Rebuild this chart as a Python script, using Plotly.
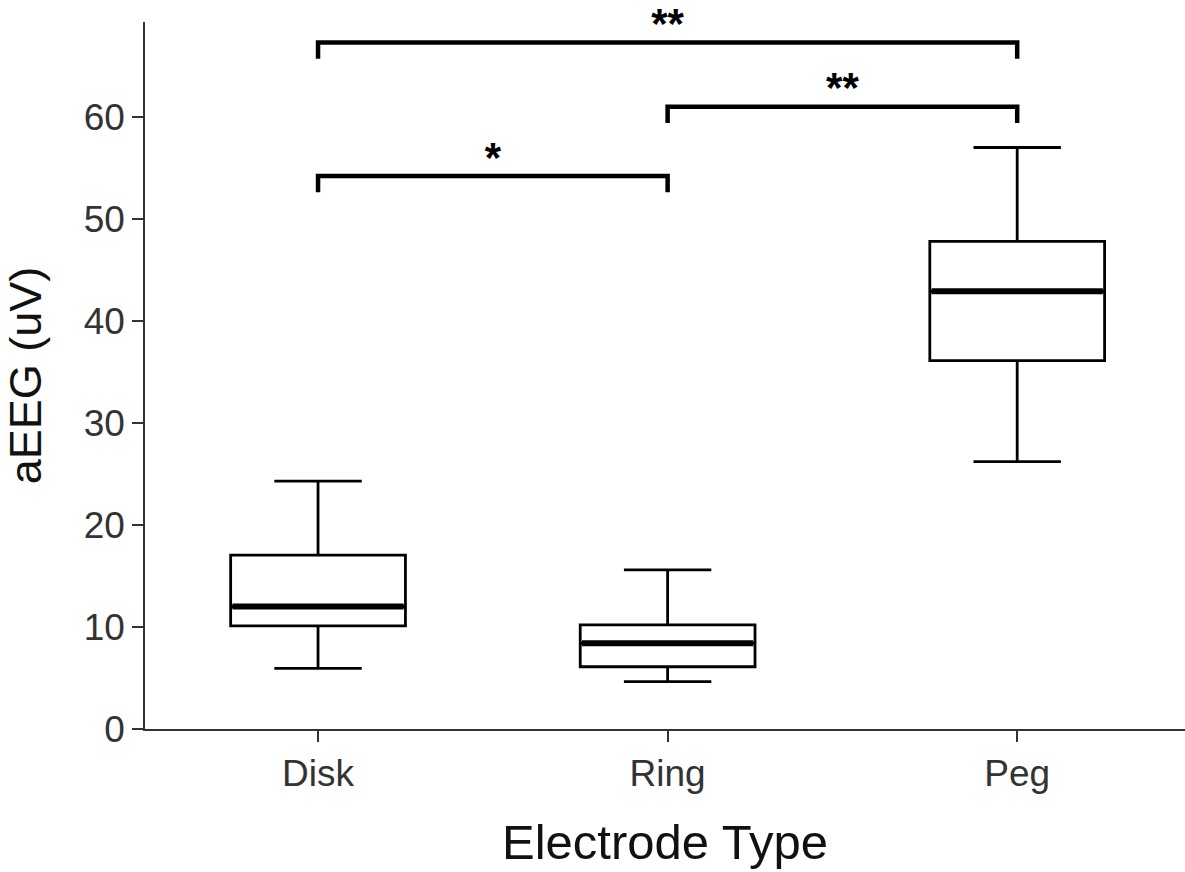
import plotly.graph_objects as go

# ---- data ----
categories = ["Disk", "Ring", "Peg"]
lower_whisker = [5.95, 4.65, 26.2]
q1 = [10.1, 6.1, 36.1]
median = [12.0, 8.4, 42.9]
q3 = [17.05, 10.2, 47.8]
upper_whisker = [24.3, 15.6, 57.0]

# significance brackets
bracket_left = ["Disk", "Ring", "Disk"]
bracket_right = ["Ring", "Peg", "Peg"]
bracket_height = [54.2, 61.0, 67.3]
bracket_labels = ["*", "**", "**"]

BOX_W = 0.5
CAP_W = 0.25
TIP = 1.6
LABEL_OFFSET = 1.45

fig = go.Figure()
xs = list(range(len(categories)))

for i, cat in enumerate(categories):
    fig.add_trace(go.Box(
        x=[i], q1=[q1[i]], median=[median[i]], q3=[q3[i]],
        lowerfence=[lower_whisker[i]], upperfence=[upper_whisker[i]],
        width=BOX_W, fillcolor="white", boxpoints=False,
        line=dict(color="black", width=2.8), whiskerwidth=0,
        showlegend=False, hoverinfo="skip", name=cat,
    ))
    # whisker caps
    for v in (lower_whisker[i], upper_whisker[i]):
        fig.add_trace(go.Scatter(
            x=[i - CAP_W / 2, i + CAP_W / 2], y=[v, v], mode="lines",
            line=dict(color="black", width=2.8), showlegend=False, hoverinfo="skip",
        ))
    # thick median
    fig.add_trace(go.Scatter(
        x=[i - BOX_W / 2 + 0.005, i + BOX_W / 2 - 0.005], y=[median[i], median[i]], mode="lines",
        line=dict(color="black", width=6), showlegend=False, hoverinfo="skip",
    ))

for a, b, h, lab in zip(bracket_left, bracket_right, bracket_height, bracket_labels):
    xa, xb = categories.index(a), categories.index(b)
    fig.add_trace(go.Scatter(
        x=[xa, xa, xb, xb], y=[h - TIP, h, h, h - TIP], mode="lines",
        line=dict(color="black", width=4.5), showlegend=False, hoverinfo="skip",
        cliponaxis=False,
    ))
    fig.add_trace(go.Scatter(
        x=[(xa + xb) / 2], y=[h + LABEL_OFFSET], mode="text", text=["<b>" + lab + "</b>"],
        textposition="middle center", textfont=dict(size=42, color="black"),
        showlegend=False, hoverinfo="skip", cliponaxis=False,
    ))

fig.update_layout(
    width=1185, height=872,
    margin=dict(l=145, r=0, t=22, b=143),
    paper_bgcolor="white", plot_bgcolor="white",
    font=dict(family="Liberation Sans, Arial, sans-serif", color="#333333"),
    xaxis=dict(
        range=[-0.495, 2.48], tickvals=xs, ticktext=categories,
        showline=True, linecolor="#333333", linewidth=1.5,
        ticks="outside", ticklen=11, tickwidth=1.5, tickcolor="#333333",
        showgrid=False, zeroline=False,
        tickfont=dict(size=37, color="#333333"),
        title=dict(text="Electrode Type", font=dict(size=49, color="#111111"), standoff=32),
    ),
    yaxis=dict(
        range=[0, 69.3], tickvals=[0, 10, 20, 30, 40, 50, 60],
        showline=True, linecolor="#333333", linewidth=1.5,
        ticks="outside", ticklen=11, tickwidth=1.5, tickcolor="#333333",
        showgrid=False, zeroline=False,
        tickfont=dict(size=37, color="#333333"),
        title=dict(text="aEEG (uV)", font=dict(size=45, color="#111111"), standoff=36),
    ),
)

fig.write_html(
    "out.html",
    config={"displayModeBar": False},
    post_script="document.body.style.margin='0';document.body.style.overflow='hidden';",
)
